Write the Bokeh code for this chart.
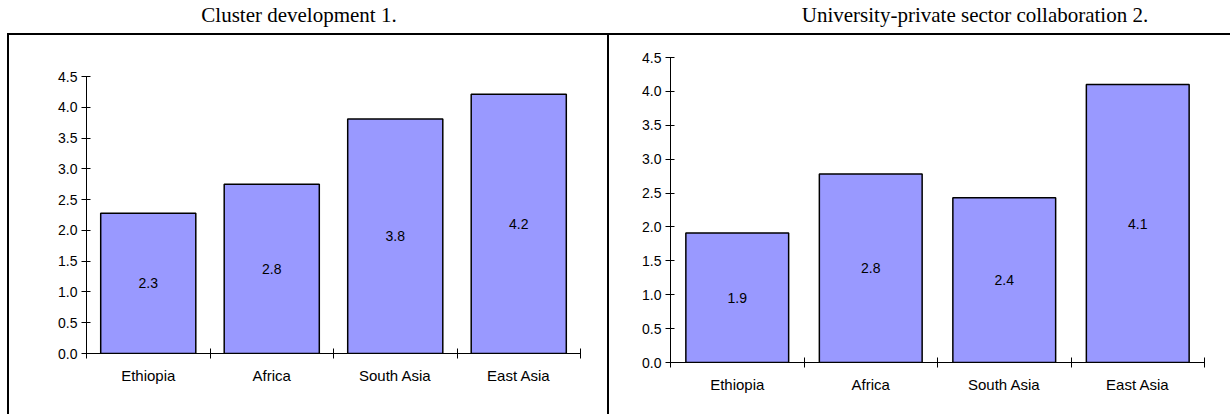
from bokeh.plotting import figure
from bokeh.models import Range1d, FixedTicker, ColumnDataSource, Div, Spacer, NumeralTickFormatter
from bokeh.layouts import row, column
from bokeh.embed import file_html
from bokeh.resources import INLINE
from bokeh.core.properties import value

# ---- data ----
categories = ["Ethiopia", "Africa", "South Asia", "East Asia"]
cluster_values = [2.28, 2.75, 3.81, 4.21]
collab_values = [1.91, 2.78, 2.43, 4.10]
y_ticks = [0.0, 0.5, 1.0, 1.5, 2.0, 2.5, 3.0, 3.5, 4.0, 4.5]
titles = ["Cluster development 1.", "University-private sector collaboration 2."]

BAR_FILL = "#9999FF"
SANS = "Liberation Sans"
SERIF = "Liberation Serif"


def make_chart(vals, width, height, mb_left, mb_right, mb_top, mb_bottom):
    n = len(categories)
    xs = [i + 0.5 for i in range(n)]
    src = ColumnDataSource(dict(
        x=xs, top=vals, mid=[v / 2 for v in vals],
        label=[f"{v:.1f}" for v in vals]))
    p = figure(width=width, height=height,
               x_range=Range1d(0, n), y_range=Range1d(y_ticks[0], y_ticks[-1]),
               output_backend="svg", toolbar_location=None,
               min_border_left=mb_left, min_border_right=mb_right,
               min_border_top=mb_top, min_border_bottom=mb_bottom, margin=0)
    p.outline_line_color = None
    p.grid.visible = False
    p.background_fill_color = "white"
    p.border_fill_color = "white"

    p.vbar(x="x", top="top", bottom=0, width=0.77, source=src,
           fill_color=BAR_FILL, line_color="black", line_width=1.5)
    p.text(x="x", y="mid", text="label", source=src,
           text_align="center", text_baseline="middle",
           text_font=value(SANS), text_font_size="14px", text_color="black")

    ya = p.yaxis[0]
    ya.ticker = FixedTicker(ticks=y_ticks)
    ya.formatter = NumeralTickFormatter(format="0.0")
    ya.major_tick_in = 4
    ya.major_tick_out = 5
    ya.minor_tick_line_color = None
    ya.axis_line_color = "black"
    ya.major_tick_line_color = "black"
    ya.major_label_text_font = SANS
    ya.major_label_text_font_size = "14px"
    ya.major_label_text_color = "black"
    ya.major_label_standoff = 4

    xa = p.xaxis[0]
    xa.ticker = FixedTicker(ticks=xs, minor_ticks=list(range(n + 1)))
    xa.major_label_overrides = {x: c for x, c in zip(xs, categories)}
    xa.major_tick_in = 0
    xa.major_tick_out = 0
    xa.minor_tick_in = 5
    xa.minor_tick_out = 5
    xa.minor_tick_line_color = "black"
    xa.axis_line_color = "black"
    xa.major_label_text_font = SANS
    xa.major_label_text_font_size = "15px"
    xa.major_label_text_color = "black"
    xa.major_label_standoff = 8
    return p


p1 = make_chart(cluster_values, 598, 379, 77, 27, 41, 61)
p2 = make_chart(collab_values, 621, 379, 61, 26, 22, 52)

title_style = {"font-family": SERIF, "font-size": "21px", "text-align": "center",
               "color": "black", "line-height": "22px", "padding-top": "4px"}
t1 = Div(text=titles[0], width=598, height=33, margin=0, styles=title_style)
t2 = Div(text=titles[1], width=510, height=33, margin=0, styles=title_style)
title_row = row(t1, Spacer(width=122, height=33, margin=0), t2, margin=0, spacing=0)

line_style = {"background-color": "black"}
hline = Div(text="", width=1223, height=2, margin=0, styles=line_style)
hrow = row(Spacer(width=7, height=2, margin=0), hline, margin=0, spacing=0)

vline1 = Div(text="", width=2, height=379, margin=0, styles=line_style)
vline2 = Div(text="", width=2, height=379, margin=0, styles=line_style)
body = row(Spacer(width=7, height=379, margin=0), vline1,
           column(p1, margin=0), vline2, column(p2, margin=0),
           margin=0, spacing=0)

layout = column(title_row, hrow, body, margin=0, spacing=0)

open("out.html", "w").write(file_html(layout, INLINE))
